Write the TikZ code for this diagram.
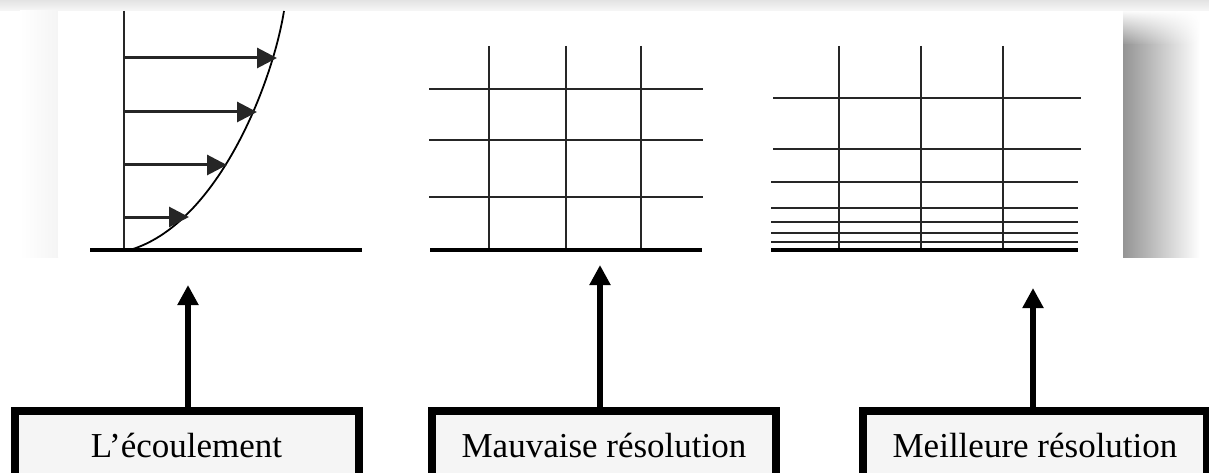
\documentclass[tikz,border=0pt]{standalone}
\usepackage{fontspec}
\setmainfont{Liberation Serif}
\usetikzlibrary{arrows.meta,fadings}
\tikzfading[name=fadetop, top color=transparent!100, bottom color=transparent!0]
\begin{document}
\begin{tikzpicture}[x=1pt,y=-1pt,
  gridline/.style={line width=2pt, black!85},
  wall/.style={line width=4pt, black},
  vel/.style={line width=3pt, black!85, -{Triangle[length=20pt,width=20pt]}},
  uparrow/.style={line width=6pt, black, -{Triangle[length=20pt,width=20pt]}},
  labelbox/.style={draw=black, line width=8pt, fill=black!4, minimum width=344pt,
    anchor=north, inner xsep=0pt, inner ysep=20pt, text height=26pt, text depth=40pt,
    font=\fontsize{35}{40}\selectfont}
]
\useasboundingbox (0,0) rectangle (1209,473);
\clip (0,0) rectangle (1209,473);
\fill[white] (0,0) rectangle (1209,473);
% shadow of the panel
\shade[top color=black!11, bottom color=black!3] (0,0) rectangle (1209,11);
\shade[left color=white, right color=black!4] (20,11) rectangle (58,257);
\shade[left color=black!42, right color=white] (1123,45) rectangle (1200,257);
\shade[left color=black!42, right color=white, path fading=fadetop] (1123,10) rectangle (1200,45);
\fill[white] (58,11) rectangle (1123,257);

% panel 1 : velocity profile
\draw[gridline] (124,11) -- (124,250);
\draw[wall] (90,250) -- (362,250);
\draw[line width=1.8pt, black] (133,249) .. controls (218,221) and (272,85) .. (284,11);
\draw[vel] (124,58) -- (277,58);
\draw[vel] (124,112) -- (257,112);
\draw[vel] (124,165) -- (227,165);
\draw[vel] (124,217) -- (189,217);

% panel 2 : coarse mesh
\foreach \y in {89,140,197} \draw[gridline] (429,\y) -- (703,\y);
\foreach \x in {489,566,641} \draw[gridline] (\x,46) -- (\x,250);
\draw[wall] (430,250) -- (702,250);

% panel 3 : refined mesh
\foreach \y in {98,149} \draw[gridline] (773,\y) -- (1081,\y);
\foreach \y in {182,208,222,233,242} \draw[gridline] (771,\y) -- (1078,\y);
\foreach \x in {839,921,1003} \draw[gridline] (\x,46) -- (\x,250);
\draw[wall] (771,250) -- (1078,250);

% label boxes
\node[labelbox] (b1) at (186.5,407) {L’écoulement};
\node[labelbox] (b2) at (604,407) {Mauvaise résolution};
\node[labelbox] (b3) at (1035,407) {Meilleure résolution};

\coordinate (t1) at (188,285);
\coordinate (t2) at (600,265);
\coordinate (t3) at (1033,288);
\draw[uparrow] (t1 |- b1.north) -- (t1);
\draw[uparrow] (t2 |- b2.north) -- (t2);
\draw[uparrow] (t3 |- b3.north) -- (t3);
\end{tikzpicture}
\end{document}
